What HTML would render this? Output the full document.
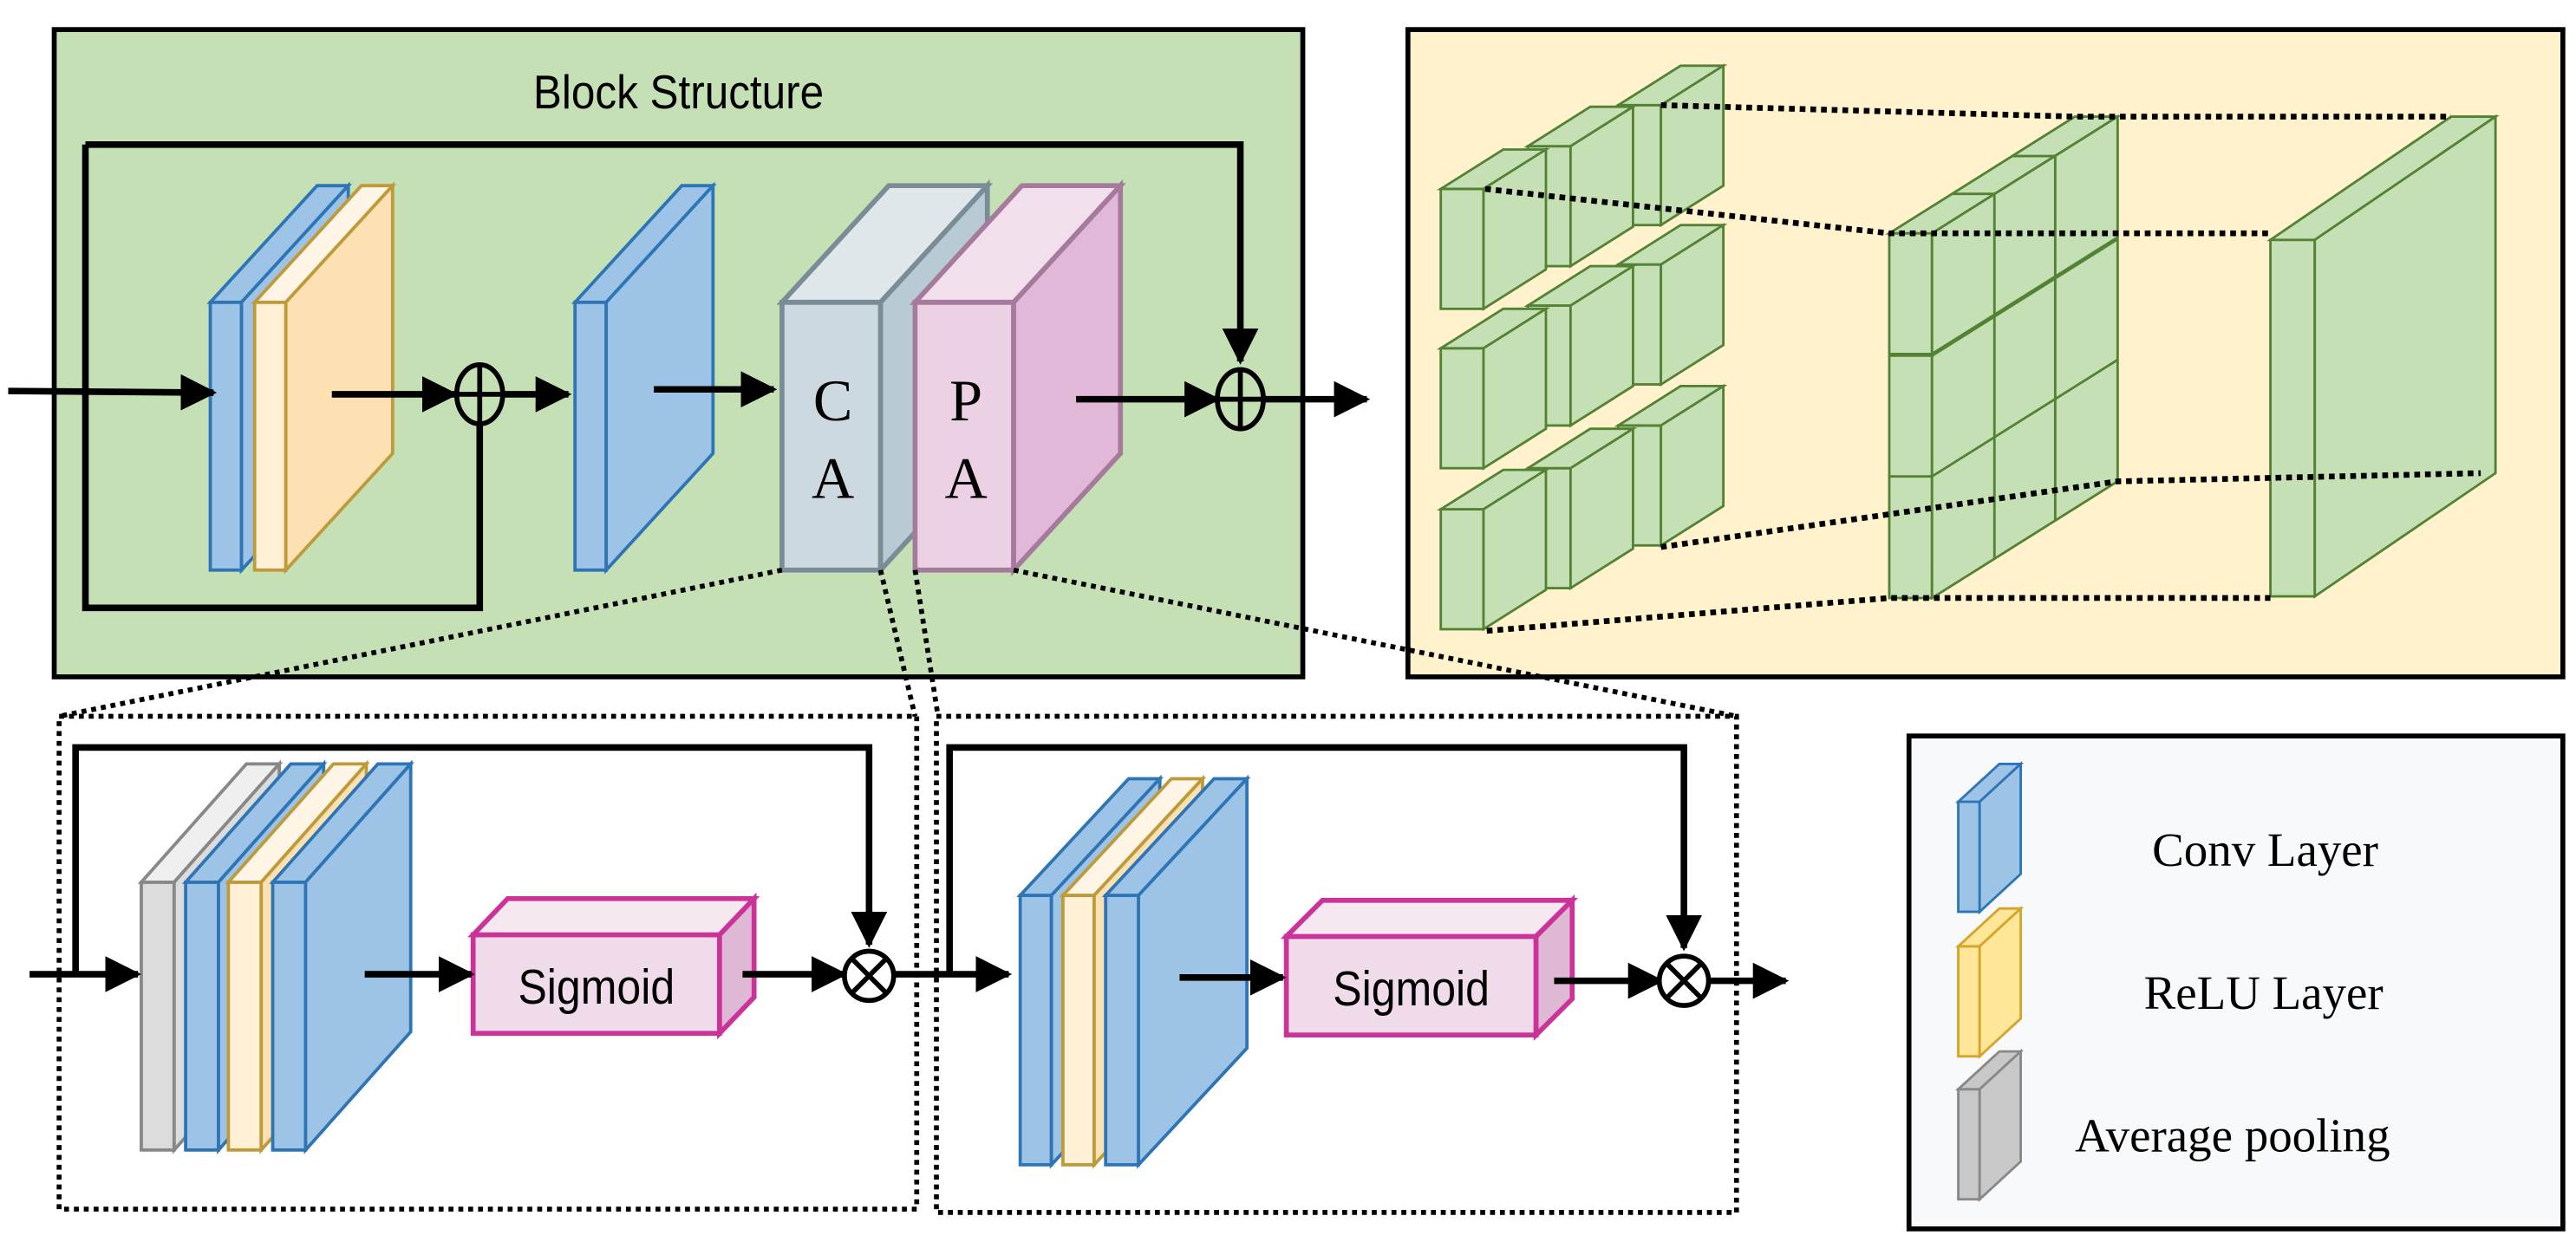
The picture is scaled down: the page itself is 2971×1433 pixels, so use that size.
<!DOCTYPE html>
<html><head><meta charset="utf-8"><style>html,body{margin:0;padding:0;background:#fff}svg{display:block}</style></head>
<body>
<svg width="2971" height="1433" viewBox="0 0 1568 756" preserveAspectRatio="none" xmlns="http://www.w3.org/2000/svg">
<defs>
<marker id="a2" markerWidth="22" markerHeight="22" refX="20" refY="11" orient="auto" markerUnits="userSpaceOnUse"><path d="M0,0 L22,11 L0,22 z" fill="#000"/></marker>
</defs>
<!-- Block -->
<rect x="33" y="18" width="760" height="394" fill="#c5e0b4" stroke="#000" stroke-width="3"/>
<text x="413" y="66" font-family="Liberation Sans, sans-serif" font-size="29" text-anchor="middle" transform="translate(413 0) scale(0.9 1) translate(-413 0)">Block Structure</text>
<polyline points="52,88 755,88 755,220" fill="none" stroke="#000" stroke-width="4" marker-end="url(#a2)"/>
<polyline points="52,88 52,370 292,370 292,258" fill="none" stroke="#000" stroke-width="4"/>
<g stroke="#2e75b6" stroke-width="2" fill="#9dc3e6">
<rect x="128" y="184" width="19" height="163"/><polygon points="128,184 193,113 212,113 147,184"/><polygon points="147,184 212,113 212,276 147,347"/></g>
<g stroke="#bf9a3a" stroke-width="2"><rect x="155" y="184" width="19" height="163" fill="#fff0d6"/><polygon points="155,184 220,113 239,113 174,184" fill="#fff5e6"/><polygon points="174,184 239,113 239,276 174,347" fill="#fde1b2"/></g>
<g stroke="#2e75b6" stroke-width="2" fill="#9dc3e6">
<rect x="350" y="184" width="19" height="163"/><polygon points="350,184 415,113 434,113 369,184"/><polygon points="369,184 434,113 434,276 369,347"/></g>
<g stroke="#7a8c95" stroke-width="3"><rect x="476" y="184" width="60" height="163" fill="#ccd9e0"/><polygon points="476,184 541,113 601,113 536,184" fill="#dfe7ea"/><polygon points="536,184 601,113 601,276 536,347" fill="#b8cad3"/></g>
<g stroke="#a57a9c" stroke-width="3"><rect x="557" y="184" width="60" height="163" fill="#ecd0e3"/><polygon points="557,184 622,113 682,113 617,184" fill="#f1e0ec"/><polygon points="617,184 682,113 682,276 617,347" fill="#e1b8d8"/></g>
<g font-family="Liberation Serif, serif" font-size="36" text-anchor="middle"><text x="507" y="256">C</text><text x="507" y="303">A</text><text x="588" y="256">P</text><text x="588" y="303">A</text></g>
<g stroke="#000" stroke-width="4" fill="none">
<line x1="5" y1="238" x2="130" y2="239" marker-end="url(#a2)"/>
<line x1="202" y1="240" x2="277" y2="240" marker-end="url(#a2)"/>
<line x1="306" y1="240" x2="346" y2="240" marker-end="url(#a2)"/>
<line x1="398" y1="237" x2="471" y2="237" marker-end="url(#a2)"/>
<line x1="655" y1="243" x2="741" y2="243" marker-end="url(#a2)"/>
<line x1="768" y1="243" x2="832" y2="243" marker-end="url(#a2)"/>
</g>
<g stroke="#000" stroke-width="3" fill="none">
<ellipse cx="292" cy="240" rx="14" ry="18" fill="#c5e0b4"/><line x1="278" y1="240" x2="306" y2="240"/><line x1="292" y1="222" x2="292" y2="258"/>
<ellipse cx="755" cy="243" rx="14" ry="18" fill="#c5e0b4"/><line x1="741" y1="243" x2="769" y2="243"/><line x1="755" y1="225" x2="755" y2="261"/>
</g>
<!-- top right -->
<rect x="857" y="18" width="703" height="394" fill="#fff2cc" stroke="#000" stroke-width="3"/>
<g stroke="#548235" stroke-width="1.5" fill="#c5e0b4">
<rect x="985" y="64" width="26" height="73"/><polygon points="985,64 1023,40 1049,40 1011,64"/><polygon points="1011,64 1049,40 1049,113 1011,137"/>
<rect x="985" y="161" width="26" height="73"/><polygon points="985,161 1023,137 1049,137 1011,161"/><polygon points="1011,161 1049,137 1049,210 1011,234"/>
<rect x="985" y="259" width="26" height="73"/><polygon points="985,259 1023,235 1049,235 1011,259"/><polygon points="1011,259 1049,235 1049,308 1011,332"/>
<rect x="930" y="89" width="26" height="73"/><polygon points="930,89 968,65 994,65 956,89"/><polygon points="956,89 994,65 994,138 956,162"/>
<rect x="930" y="186" width="26" height="73"/><polygon points="930,186 968,162 994,162 956,186"/><polygon points="956,186 994,162 994,235 956,259"/>
<rect x="930" y="285" width="26" height="73"/><polygon points="930,285 968,261 994,261 956,285"/><polygon points="956,285 994,261 994,334 956,358"/>
<rect x="877" y="115" width="26" height="73"/><polygon points="877,115 915,91 941,91 903,115"/><polygon points="903,115 941,91 941,164 903,188"/>
<rect x="877" y="212" width="26" height="73"/><polygon points="877,212 915,188 941,188 903,212"/><polygon points="903,212 941,188 941,261 903,285"/>
<rect x="877" y="310" width="26" height="73"/><polygon points="877,310 915,286 941,286 903,310"/><polygon points="903,310 941,286 941,359 903,383"/>
<rect x="1150" y="142" width="26" height="222"/><polygon points="1150,142 1263,71 1289,71 1176,142"/><polygon points="1176,142 1289,71 1289,293 1176,364"/>
<line x1="1214" y1="118" x2="1214" y2="340"/><line x1="1251" y1="95" x2="1251" y2="317"/>
<line x1="1176" y1="216" x2="1289" y2="145" stroke-width="2.5"/><line x1="1176" y1="290" x2="1289" y2="219"/>
<line x1="1150" y1="216" x2="1176" y2="216" stroke-width="2.5"/><line x1="1150" y1="290" x2="1176" y2="290"/>
<line x1="1188" y1="118" x2="1214" y2="118"/><line x1="1225" y1="95" x2="1251" y2="95"/>
<rect x="1382" y="146" width="27" height="217"/><polygon points="1382,146 1492,71 1519,71 1409,146"/><polygon points="1409,146 1519,71 1519,288 1409,363"/>
</g>
<g stroke="#000" stroke-width="3.5" fill="none" stroke-dasharray="3.5,3">
<polyline points="1011,64 1264,71 1492,71"/>
<polyline points="904,115 1150,142 1382,142"/>
<polyline points="1011,333 1289,293 1510,288"/>
<polyline points="905,384 1150,364 1382,364"/>
</g>
<!-- dotted connectors -->
<g stroke="#000" stroke-width="3" fill="none" stroke-dasharray="3,3">
<line x1="476" y1="347" x2="36" y2="436"/>
<line x1="617" y1="347" x2="1057" y2="436"/>
<line x1="536" y1="347" x2="557" y2="436"/>
<line x1="557" y1="347" x2="571" y2="436"/>
<rect x="36" y="436" width="522" height="300"/>
<rect x="570" y="436" width="487" height="302"/>
</g>
<!-- bottom left -->
<polyline points="46,593 46,455 529,455 529,575" fill="none" stroke="#000" stroke-width="4" marker-end="url(#a2)"/>
<g stroke-width="2">
<g stroke="#888" fill="#dcdcdc"><rect x="86" y="537" width="20" height="163"/><polygon points="86,537 150,465 170,465 106,537" fill="#efefef"/><polygon points="106,537 170,465 170,628 106,700"/></g>
<g stroke="#2e75b6" fill="#9dc3e6"><rect x="113" y="537" width="20" height="163"/><polygon points="113,537 177,465 197,465 133,537"/><polygon points="133,537 197,465 197,628 133,700"/></g>
<g stroke="#bf9a3a" fill="#fff0d6"><rect x="139" y="537" width="20" height="163"/><polygon points="139,537 203,465 223,465 159,537" fill="#fff5e6"/><polygon points="159,537 223,465 223,628 159,700" fill="#fde1b2"/></g>
<g stroke="#2e75b6" fill="#9dc3e6"><rect x="166" y="537" width="20" height="163"/><polygon points="166,537 230,465 250,465 186,537"/><polygon points="186,537 250,465 250,628 186,700"/></g>
<g stroke="#2e75b6" fill="#9dc3e6"><rect x="621" y="545" width="19" height="164"/><polygon points="621,545 687,474 706,474 640,545"/><polygon points="640,545 706,474 706,638 640,709"/></g>
<g stroke="#bf9a3a" fill="#fff0d6"><rect x="647" y="545" width="19" height="164"/><polygon points="647,545 713,474 732,474 666,545" fill="#fff5e6"/><polygon points="666,545 732,474 732,638 666,709" fill="#fde1b2"/></g>
<g stroke="#2e75b6" fill="#9dc3e6"><rect x="673" y="545" width="20" height="164"/><polygon points="673,545 739,474 759,474 693,545"/><polygon points="693,545 759,474 759,638 693,709"/></g>
</g>
<g stroke="#cc3399" stroke-width="3">
<rect x="288" y="569" width="150" height="60" fill="#efdbea"/><polygon points="288,569 309,547 459,547 438,569" fill="#f5e8f1"/><polygon points="438,569 459,547 459,607 438,629" fill="#dfb8d5"/>
<rect x="783" y="570" width="152" height="60" fill="#efdbea"/><polygon points="783,570 805,548 957,548 935,570" fill="#f5e8f1"/><polygon points="935,570 957,548 957,608 935,630" fill="#dfb8d5"/>
</g>
<g font-family="Liberation Sans, sans-serif" font-size="30" text-anchor="middle">
<text x="363" y="611" transform="translate(363 0) scale(0.88 1) translate(-363 0)">Sigmoid</text>
<text x="859" y="612" transform="translate(859 0) scale(0.88 1) translate(-859 0)">Sigmoid</text></g>
<polyline points="578,593 578,455 1025,455 1025,577" fill="none" stroke="#000" stroke-width="4" marker-end="url(#a2)"/>
<g stroke="#000" stroke-width="4" fill="none">
<line x1="18" y1="593" x2="84" y2="593" marker-end="url(#a2)"/>
<line x1="222" y1="593" x2="287" y2="593" marker-end="url(#a2)"/>
<line x1="452" y1="593" x2="514" y2="593" marker-end="url(#a2)"/>
<line x1="545" y1="593" x2="614" y2="593" marker-end="url(#a2)"/>
<line x1="718" y1="595" x2="781" y2="595" marker-end="url(#a2)"/>
<line x1="946" y1="597" x2="1011" y2="597" marker-end="url(#a2)"/>
<line x1="1040" y1="597" x2="1087" y2="597" marker-end="url(#a2)"/>
</g>
<g stroke="#000" stroke-width="3" fill="#fff">
<circle cx="529" cy="594" r="15"/><line x1="518" y1="583" x2="540" y2="605"/><line x1="540" y1="583" x2="518" y2="605"/>
<circle cx="1025" cy="597" r="15"/><line x1="1014" y1="586" x2="1036" y2="608"/><line x1="1036" y1="586" x2="1014" y2="608"/>
</g>
<!-- legend -->
<rect x="1162" y="448" width="398" height="300" fill="#f8f9fa" stroke="#000" stroke-width="3"/>
<g stroke-width="1.5">
<g stroke="#2e75b6" fill="#9dc3e6"><rect x="1192" y="488" width="13" height="67"/><polygon points="1192,488 1217,465 1230,465 1205,488"/><polygon points="1205,488 1230,465 1230,532 1205,555"/></g>
<g stroke="#d4a52b" fill="#ffe699"><rect x="1192" y="576" width="13" height="67"/><polygon points="1192,576 1217,553 1230,553 1205,576"/><polygon points="1205,576 1230,553 1230,620 1205,643"/></g>
<g stroke="#888" fill="#c8c8c8"><rect x="1192" y="663" width="13" height="67"/><polygon points="1192,663 1217,640 1230,640 1205,663"/><polygon points="1205,663 1230,640 1230,707 1205,730"/></g>
</g>
<g font-family="Liberation Serif, serif" font-size="29"><text x="1310" y="527">Conv Layer</text><text x="1305" y="614">ReLU Layer</text><text x="1263" y="701">Average pooling</text></g>
</svg>
</body></html>
